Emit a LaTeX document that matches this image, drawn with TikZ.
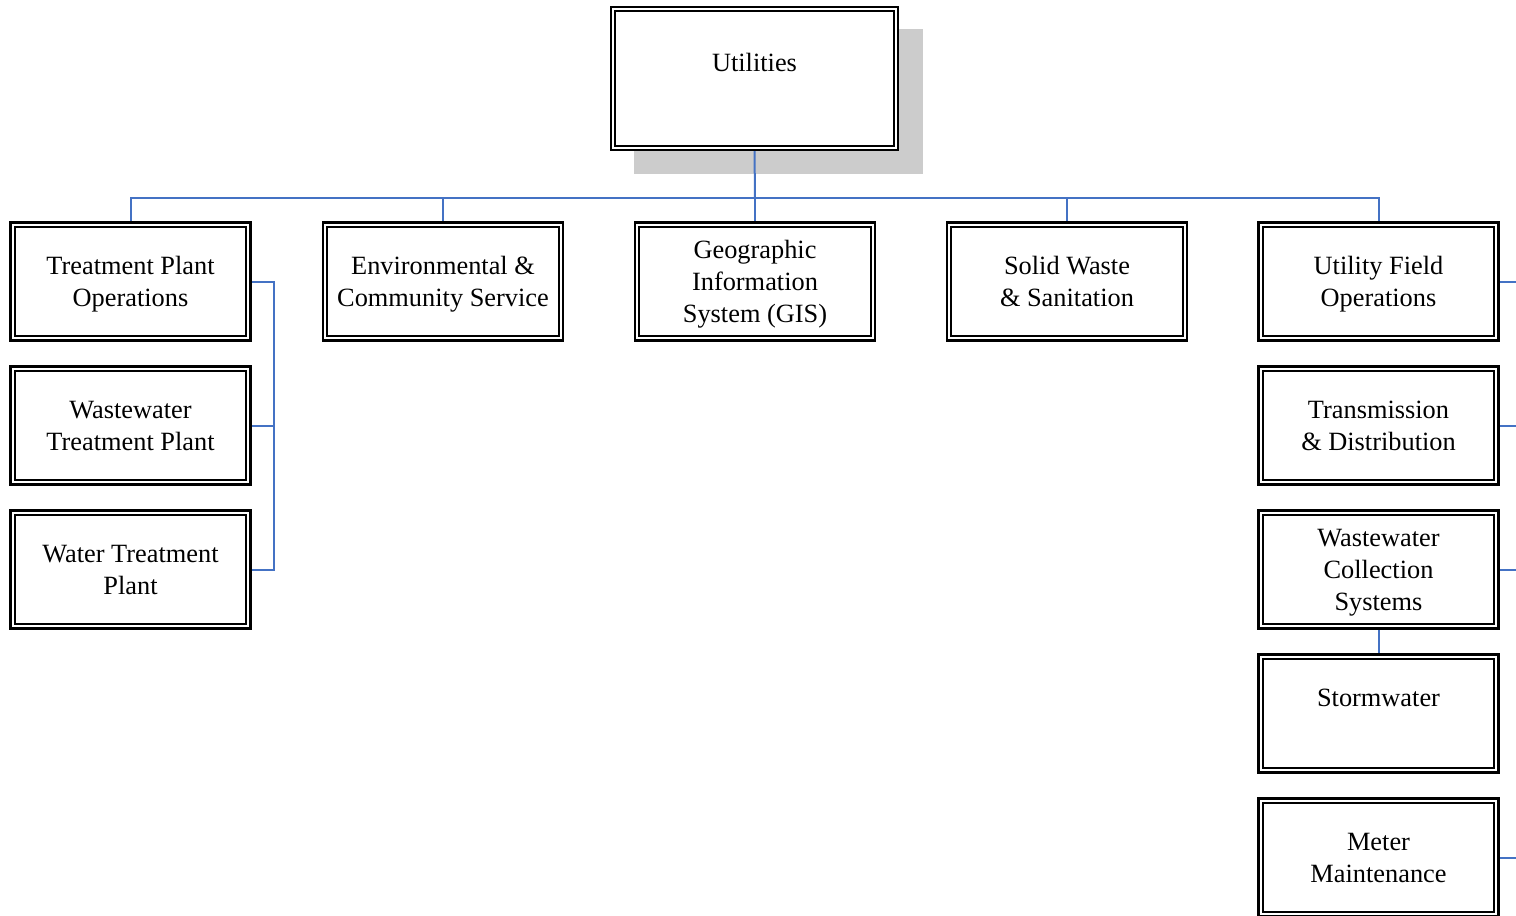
\documentclass[tikz,border=0pt]{standalone}
\usepackage{fontspec}
\setmainfont{Liberation Serif}
\usetikzlibrary{backgrounds}

\definecolor{linkblue}{HTML}{4472C4}
\tikzset{
	unit/.style={draw, double, line width=0.045cm, double distance=0.04cm, fill=white,
		minimum width=4.72cm, minimum height=2.28cm, align=center, inner sep=2pt,
		text depth=0pt, font=\fontsize{15}{18.2}\selectfont},
	head/.style={unit, minimum width=5.66cm, minimum height=2.79cm},
	link/.style={draw=linkblue, line width=0.04cm},
	shade/.style={fill=black!20}
}

\begin{document}
\begin{tikzpicture}[x=0.02cm, y=-0.02cm]
	\useasboundingbox (0,0) rectangle (1516,916);

	\node[head] (util) at (754.5, 78.5) {Utilities\\~};

	\node[unit] (tpo) at (130.5, 281.5) {Treatment Plant\\Operations};
	\node[unit] (env) at (443, 281.5) {Environmental \&\\Community Service};
	\node[unit] (gis) at (755, 281.5) {Geographic\\Information\\System (GIS)};
	\node[unit] (sws) at (1067, 281.5) {Solid Waste\\\& Sanitation};
	\node[unit] (ufo) at (1378.5, 281.5) {Utility Field\\Operations};

	\node[unit] (wwtp) at (130.5, 425.5) {Wastewater\\Treatment Plant};
	\node[unit] (wtp) at (130.5, 569.5) {Water Treatment\\Plant};

	\node[unit] (td) at (1378.5, 425.5) {Transmission\\\& Distribution};
	\node[unit] (wcs) at (1378.5, 569.5) {Wastewater\\Collection\\Systems};
	\node[unit] (storm) at (1378.5, 713.5) {Stormwater\\~};
	\node[unit] (meter) at (1378.5, 857.5) {Meter\\Maintenance};

	\coordinate (bus) at (755, 198);
	\coordinate (lrail) at (274, 0);
	\coordinate (rrail) at (1530, 0);

	\begin{scope}[on background layer]
		\fill[shade] ([shift={(22,21)}]util.north west) rectangle ([shift={(26,25)}]util.south east);

		\draw[link] (util.south) -- (bus);
		\draw[link] (tpo.north) |- (bus);
		\draw[link] (env.north) |- (bus);
		\draw[link] (gis.north) -- (bus);
		\draw[link] (sws.north) |- (bus);
		\draw[link] (ufo.north) |- (bus);

		% left bracket
		\draw[link] (tpo.east) -- (tpo.east -| lrail) |- (wtp.east);
		\draw[link] (wwtp.east) -- (wwtp.east -| lrail);

		% right side
		\draw[link] (ufo.east) -- (ufo.east -| rrail);
		\draw[link] (td.east) -- (td.east -| rrail);
		\draw[link] (wcs.east) -- (wcs.east -| rrail);
		\draw[link] (meter.east) -- (meter.east -| rrail);
		\draw[link] (wcs.south) -- (storm.north);
	\end{scope}
\end{tikzpicture}
\end{document}
